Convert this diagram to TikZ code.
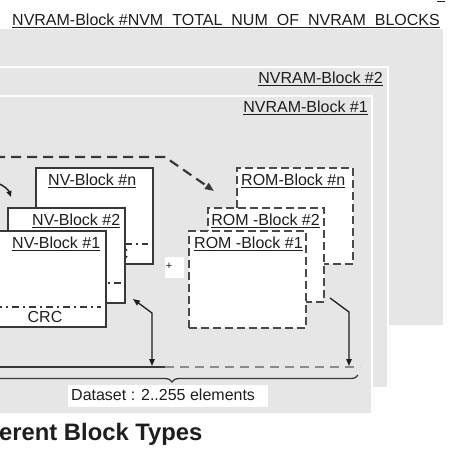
\documentclass[tikz,border=0pt]{standalone}
\usepackage{fontspec}
\setmainfont{Liberation Sans}
\usetikzlibrary{arrows.meta,decorations.pathreplacing}
\definecolor{panel}{HTML}{E6E6E6}
\definecolor{ink}{HTML}{1E1E1E}
\definecolor{edgec}{HTML}{383838}
\definecolor{dashc}{HTML}{4A4A4A}
\definecolor{dsgray}{HTML}{8A8A8A}
\begin{document}
\begin{tikzpicture}[x=1pt,y=-1pt,
  panelbox/.style={fill=panel, draw=white, line width=2pt, anchor=north west, inner sep=0pt},
  nvbox/.style={fill=white, draw=edgec, line width=1.5pt, anchor=north west, inner sep=0pt},
  rombox/.style={fill=white, draw=dashc, line width=1.6pt, dash pattern=on 8pt off 4pt, anchor=north west, inner sep=0pt},
  lab/.style={font=\fontsize{16}{18}\selectfont, text=ink, inner sep=0pt},
  ul/.style={append after command={([yshift=-2.6pt]\tikzlastnode.base west) edge[draw=ink, line width=1.1pt] ([yshift=-2.6pt]\tikzlastnode.base east)}},
  crcline/.style={draw=edgec, line width=1.3pt, dash pattern=on 7pt off 4pt on 2pt off 4pt},
  darr/.style={draw=edgec, line width=2.2pt, dash pattern=on 10pt off 6pt, -{Triangle[length=9pt,width=7pt]}},
  varr/.style={draw=ink, line width=1.3pt}
]
\clip (0,0) rectangle (450,450);
\fill[white] (0,0) rectangle (450,450);

% panels
\node[panelbox, minimum width=453pt, minimum height=335pt] (pnvm) at (-10,-10) {};
\fill[white] (-10,-10) rectangle (450,29);
\node[panelbox, minimum width=397pt, minimum height=321pt] (pnv2) at (-10,66) {};
\node[panelbox, minimum width=381pt, minimum height=318pt] (pnv1) at (-10,95) {};

% panel labels
\node[lab, ul, anchor=base west] (tnvm) at (12,25) {NVRAM-Block \#NVM\hspace{9pt}TOTAL\hspace{9pt}NUM\hspace{9pt}OF\hspace{9pt}NVRAM\hspace{9pt}BLOCKS};
\node[lab, ul, anchor=base east] (tnv2) at (383,83) {NVRAM-Block \#2};
\node[lab, ul, anchor=base east] (tnv1) at (368,112) {NVRAM-Block \#1};

% top-right dash
\coordinate (tr0) at (437,1.5);
\coordinate (tr1) at (445,1.5);
\draw[ink, line width=1pt] (tr0) -- (tr1);

% dashed arrow at top
\coordinate (da0) at (-5,157);
\coordinate (da1) at (165,157);
\coordinate (da2) at (214,191);
\draw[darr] (da0) -- (da1) -- (da2);

% small left arrow
\coordinate (la0) at (-3,183);
\coordinate (la1) at (11,197);
\draw[draw=ink, line width=1.4pt, -{Triangle[length=6pt,width=5pt]}] (la0) to[bend left=25] (la1);

% NV blocks (back to front)
\node[nvbox, minimum width=117pt, minimum height=96pt] (nvn) at (35,167) {};
\coordinate (cn0) at (40,244); \coordinate (cn1) at (148,244);
\draw[crcline] (cn0) -- (cn1);
\node[lab, anchor=base] (crcn) at (111,259) {CRC};
\node[lab, ul, anchor=base west] (lnvn) at (48,185) {NV-Block \#n};

\node[nvbox, minimum width=117pt, minimum height=95pt] (nv2) at (7,207) {};
\coordinate (c20) at (12,283); \coordinate (c21) at (121,283);
\draw[crcline] (c20) -- (c21);
\node[lab, anchor=base] (crc2) at (65,298) {CRC};
\node[lab, ul, anchor=base west] (lnv2) at (32,225) {NV-Block \#2};

\node[nvbox, minimum width=115pt, minimum height=96pt] (nv1) at (-10,230) {};
\coordinate (c10) at (-5,307); \coordinate (c11) at (101,307);
\draw[crcline] (c10) -- (c11);
\node[lab, anchor=base] (crc1) at (45,322) {CRC};
\node[lab, ul, anchor=base west] (lnv1) at (12,248) {NV-Block \#1};

% plus box
\node[fill=white, anchor=north west, inner sep=0pt, minimum width=19pt, minimum height=21pt] (plusbox) at (165,257) {};
\node[font=\fontsize{11}{11}\selectfont, text=ink, inner sep=0pt] (plus) at (169,266) {+};

% ROM blocks (back to front)
\node[rombox, minimum width=116pt, minimum height=96pt] (romn) at (236,167) {};
\node[lab, ul, anchor=base west] (lromn) at (241,185) {ROM-Block \#n};
\node[rombox, minimum width=116pt, minimum height=94pt] (rom2) at (207,207) {};
\node[lab, ul, anchor=base east] (lrom2) at (320,225) {ROM -Block \#2};
\node[rombox, minimum width=117pt, minimum height=97pt] (rom1) at (188,230) {};
\node[lab, ul, anchor=base west] (lrom1) at (194,248) {ROM -Block \#1};

% dataset line
\coordinate (ds0) at (-5,367);
\coordinate (ds1) at (165,367);
\coordinate (ds2) at (360,367);
\draw[draw=edgec, line width=1.6pt] (ds0) -- (ds1);
\draw[draw=dsgray, line width=2.5pt, dash pattern=on 9pt off 6pt] (ds1) -- (ds2);

% vertical arrows
\coordinate (va0) at (133,299);
\coordinate (va1) at (152,313);
\coordinate (va2) at (152,366);
\draw[varr, {Triangle[length=7pt,width=5.5pt]}-{Triangle[length=7pt,width=5.5pt]}] (va0) -- (va1) -- (va2);
\coordinate (vb0) at (330,298);
\coordinate (vb1) at (349,312);
\coordinate (vb2) at (349,366);
\draw[varr, -{Triangle[length=7pt,width=5.5pt]}] (vb0) -- (vb1) -- (vb2);

% brace
\coordinate (br0) at (-14,375);
\coordinate (br1) at (358,375);
\draw[draw=edgec, line width=1.3pt, decorate, decoration={brace, mirror, amplitude=7pt}] (br0) -- (br1);

% dataset label
\node[fill=white, anchor=north west, inner sep=0pt, minimum width=200pt, minimum height=22pt] (dsbox) at (68,385) {};
\node[lab, anchor=base west] (dstext) at (71,400) {Dataset : 2..255 elements};

% title
\node[font=\fontsize{23.8}{26}\selectfont\bfseries, text=ink, inner sep=0pt, anchor=base west] (title) at (-1,440) {erent Block Types};
\end{tikzpicture}
\end{document}
